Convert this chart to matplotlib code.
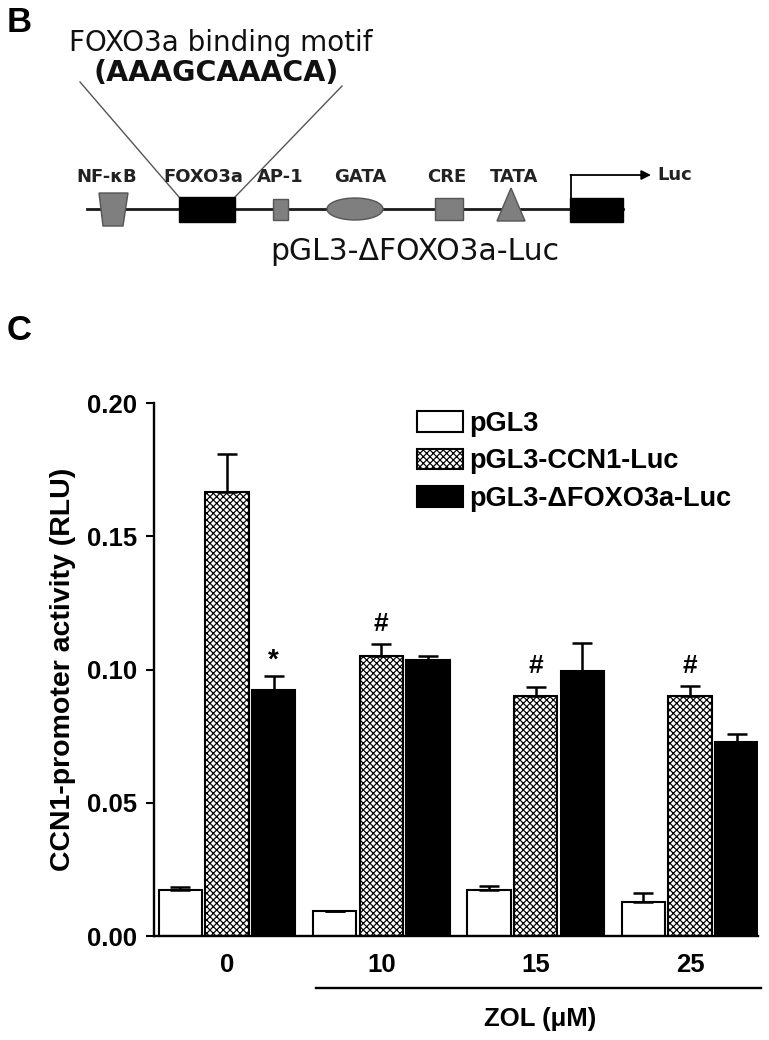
import matplotlib
matplotlib.use('Agg')
import matplotlib.pyplot as plt
import matplotlib.transforms as mtransforms
from matplotlib.patches import Rectangle, Polygon, Ellipse
import numpy as np

plt.rcParams['font.family'] = ['Liberation Sans', 'DejaVu Sans']
plt.rcParams['hatch.linewidth'] = 0.85

# ---------------- data ----------------
doses = ['0', '10', '15', '25']
series = ['pGL3', 'pGL3-CCN1-Luc', 'pGL3-\u0394FOXO3a-Luc']
pgl3 = [0.0173, 0.0092, 0.0171, 0.0129]
pgl3_err = [0.0012, 0.0003, 0.0018, 0.0031]
ccn1 = [0.1667, 0.1052, 0.0899, 0.0899]
ccn1_err = [0.0141, 0.0042, 0.0035, 0.0038]
dfoxo = [0.0923, 0.1034, 0.0994, 0.0729]
dfoxo_err = [0.0053, 0.0015, 0.0104, 0.0029]
# significance marks: (symbol, series index, dose index)
marks = [('*', 2, 0), ('#', 1, 1), ('#', 1, 2), ('#', 1, 3)]
yticks = [0.00, 0.05, 0.10, 0.15, 0.20]

# promoter diagram labels
elements = ['NF-\u03baB', 'FOXO3a', 'AP-1', 'GATA', 'CRE', 'TATA']

fig = plt.figure(figsize=(7.69, 10.4), dpi=100)

# ---------------- panel B: promoter diagram (pixel coords) ----------------
dax = fig.add_axes([0, 0, 1, 1])
dax.set_xlim(0, 769)
dax.set_ylim(1040, 0)
dax.axis('off')

gray = '#7f7f7f'
gedge = '#555555'
dax.text(7, 22, 'B', fontsize=25, weight='bold', ha='left', va='center')
dax.text(7, 330, 'C', fontsize=25, weight='bold', ha='left', va='center')

dax.text(221, 43, 'FOXO3a binding motif', fontsize=20, ha='center', va='center',
         family=['DejaVu Sans'], color='#111111')
dax.text(216, 73, '(AAAGCAAACA)', fontsize=20.5, weight='bold', ha='center', va='center',
         family=['DejaVu Sans'], color='#111111')
dax.plot([80, 179], [82, 197], color=gedge, lw=1.0)
dax.plot([342, 235], [86, 197], color=gedge, lw=1.0)

dax.plot([87, 623], [209, 209], color='#1a1a1a', lw=2.0, zorder=1)
dax.add_patch(Polygon([(99, 193), (128, 193), (123, 226), (103, 226)], closed=True,
                      facecolor=gray, edgecolor=gedge, lw=1, zorder=2))
dax.add_patch(Rectangle((179, 197), 56, 25, facecolor='black', edgecolor='black', zorder=2))
dax.add_patch(Rectangle((273, 199), 15, 21, facecolor=gray, edgecolor=gedge, lw=1, zorder=2))
dax.add_patch(Ellipse((355, 209), 56, 22, facecolor=gray, edgecolor=gedge, lw=1, zorder=2))
dax.add_patch(Rectangle((435, 198), 28, 22, facecolor=gray, edgecolor=gedge, lw=1, zorder=2))
dax.add_patch(Polygon([(497, 221), (525, 221), (511, 188)], closed=True,
                      facecolor=gray, edgecolor=gedge, lw=1, zorder=2))
dax.add_patch(Rectangle((570, 198), 53, 24, facecolor='black', edgecolor='black', zorder=2))
dax.plot([571, 571], [198, 175], color='black', lw=1.3)
dax.annotate('', xy=(651, 175), xytext=(570.5, 175),
             arrowprops=dict(arrowstyle='-|>', color='black', lw=1.3,
                             mutation_scale=14, shrinkA=0, shrinkB=0))
dax.text(657, 175, 'Luc', fontsize=13, weight='bold', ha='left', va='center',
         family=['DejaVu Sans'], color='#222222')
label_x = [107, 203, 280, 360, 447, 514]
for lab, lx in zip(elements, label_x):
    dax.text(lx, 177, lab, fontsize=13, weight='bold', ha='center', va='center',
             family=['DejaVu Sans'], color='#222222')
dax.text(415, 251, 'pGL3-\u0394FOXO3a-Luc', fontsize=21.5, ha='center', va='center',
         family=['DejaVu Sans'], color='#111111')

# ---------------- panel C: bar chart ----------------
ax = fig.add_axes([154 / 769, 1 - 936 / 1040, 604 / 769, 533 / 1040])
x = np.arange(len(doses))
step = 0.302
width = 0.28
vals_all = [pgl3, ccn1, dfoxo]
errs_all = [pgl3_err, ccn1_err, dfoxo_err]
styles = [dict(facecolor='white'),
          dict(facecolor='white', hatch='xxxxx'),
          dict(facecolor='black')]
for k in range(3):
    ax.bar(x + (k - 1) * step, vals_all[k], width,
           yerr=[np.zeros(len(doses)), errs_all[k]],
           edgecolor='black', linewidth=1.5, label=series[k],
           error_kw=dict(ecolor='black', elinewidth=1.8, capsize=7.5, capthick=1.8),
           **styles[k])

offsets = {'*': 0.0056, '#': 0.0078}
sizes = {'*': 20, '#': 19}
for sym, s, g in marks:
    yv = vals_all[s][g] + errs_all[s][g] + offsets[sym]
    ax.text(x[g] + (s - 1) * step, yv, sym, ha='center', va='center',
            fontsize=sizes[sym], weight='bold')

ax.set_xlim(-0.473, 3.441)
ax.set_ylim(0, 0.20)
ax.set_yticks(yticks)
ax.set_yticklabels(['%.2f' % v for v in yticks])
ax.set_xticks(x)
ax.set_xticklabels(doses)
for lbl in ax.get_yticklabels() + ax.get_xticklabels():
    lbl.set_fontweight('bold')
ax.tick_params(axis='y', direction='out', length=5.8, width=1.5, pad=6.5, labelsize=18.5)
ax.tick_params(axis='x', length=0, pad=12, labelsize=18.5)
for sp in ['top', 'right']:
    ax.spines[sp].set_visible(False)
for sp in ['left', 'bottom']:
    ax.spines[sp].set_linewidth(1.7)
ax.set_ylabel('CCN1-promoter activity (RLU)', fontsize=20.5, weight='bold', labelpad=8)

trans = mtransforms.blended_transform_factory(ax.transData, ax.transAxes)
ax.plot([0.58, 3.46], [-0.098, -0.098], color='black', lw=1.7, transform=trans, clip_on=False)
ax.text(2.03, -0.156, 'ZOL (\u03bcM)', transform=trans, ha='center', va='center',
        fontsize=18.5, weight='bold')

ax.legend(loc='upper left', bbox_to_anchor=(0.435, 0.985), frameon=False,
          prop=dict(weight='bold', size=19.5), handlelength=1.72, handleheight=0.78,
          handletextpad=0.2, labelspacing=0.42, borderpad=0, borderaxespad=0)

fig.savefig('out.png', dpi=100)
